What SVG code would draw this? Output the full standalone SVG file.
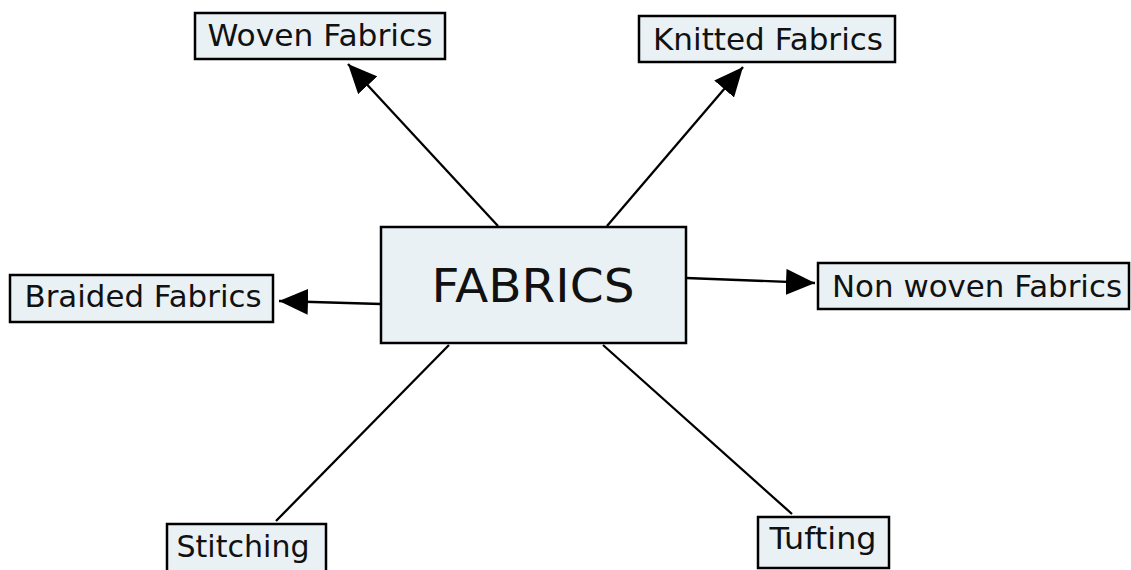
<svg xmlns="http://www.w3.org/2000/svg" width="1131" height="570" viewBox="0 0 1131 570">
<style>
.box{fill:#e9f1f4;stroke:#000;stroke-width:2.5}
.lbl{font-family:"DejaVu Sans",Verdana,sans-serif;font-size:30px;fill:#111;text-anchor:middle}
.con{stroke:#000;stroke-width:2.3;fill:none}
</style>
<defs>
<marker id="ah" markerUnits="userSpaceOnUse" markerWidth="30" markerHeight="26" refX="29" refY="13" orient="auto" viewBox="0 0 30 26">
<path d="M0,0 L29,13 L0,26 z" fill="#000"/>
</marker>
</defs>
<rect width="1131" height="570" fill="#fff"/>
<g id="connectors">
<line class="con" x1="498" y1="226" x2="348" y2="64" marker-end="url(#ah)"/>
<line class="con" x1="607" y1="226" x2="743" y2="67" marker-end="url(#ah)"/>
<line class="con" x1="381" y1="304" x2="279" y2="301" marker-end="url(#ah)"/>
<line class="con" x1="686" y1="278" x2="815" y2="283" marker-end="url(#ah)"/>
<line class="con" x1="449" y1="345" x2="276" y2="521"/>
<line class="con" x1="603" y1="345" x2="792" y2="514"/>
</g>
<g id="fabrics">
<rect class="box" x="381" y="227" width="305" height="116"/>
<text class="lbl" x="533" y="302" style="font-size:47px" textLength="203" lengthAdjust="spacingAndGlyphs">FABRICS</text>
</g>
<g id="woven">
<rect class="box" x="195" y="13" width="250" height="46"/>
<text class="lbl" x="320" y="46" textLength="225" lengthAdjust="spacingAndGlyphs">Woven Fabrics</text>
</g>
<g id="knitted">
<rect class="box" x="639" y="16" width="256" height="46"/>
<text class="lbl" x="768" y="50" textLength="230" lengthAdjust="spacingAndGlyphs">Knitted Fabrics</text>
</g>
<g id="braided">
<rect class="box" x="10" y="275" width="263" height="47"/>
<text class="lbl" x="143" y="307" textLength="237" lengthAdjust="spacingAndGlyphs">Braided Fabrics</text>
</g>
<g id="nonwoven">
<rect class="box" x="818" y="263" width="311" height="46"/>
<text class="lbl" x="977" y="297" textLength="290" lengthAdjust="spacingAndGlyphs">Non woven Fabrics</text>
</g>
<g id="stitching">
<rect class="box" x="167" y="524" width="159" height="52"/>
<text class="lbl" x="243" y="557" textLength="133" lengthAdjust="spacingAndGlyphs">Stitching</text>
</g>
<g id="tufting">
<rect class="box" x="758" y="517" width="131" height="51"/>
<text class="lbl" x="823" y="549" textLength="107" lengthAdjust="spacingAndGlyphs">Tufting</text>
</g>
</svg>
